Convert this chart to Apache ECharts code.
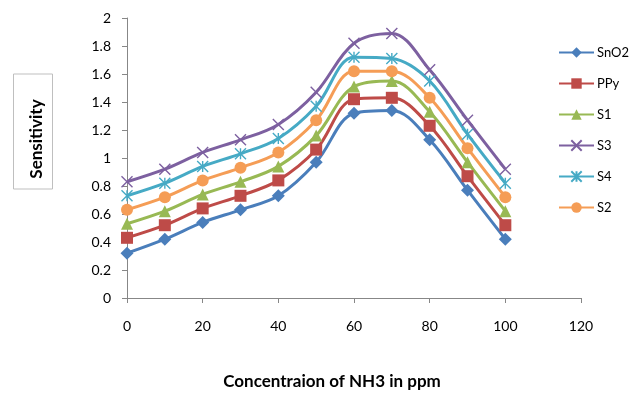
<!DOCTYPE html>
<html>
<head>
<meta charset="utf-8">
<script src="https://cdn.jsdelivr.net/npm/echarts@6/dist/echarts.min.js"></script>
<style>
  html, body { margin: 0; padding: 0; background: #fff; }
  #chart { width: 629px; height: 394px; }
</style>
</head>
<body>
<div id="chart"></div>
<script>
// NH3 concentration (ppm)
const concentration = [0, 10, 20, 30, 40, 50, 60, 70, 80, 90, 100];

// Sensitivity of each sensor material
const sno2 = [0.32, 0.42, 0.54, 0.63, 0.73, 0.97, 1.32, 1.34, 1.13, 0.77, 0.42];
const ppy  = [0.43, 0.52, 0.64, 0.73, 0.84, 1.06, 1.42, 1.43, 1.23, 0.87, 0.52];
const s1   = [0.53, 0.62, 0.74, 0.83, 0.94, 1.16, 1.51, 1.55, 1.33, 0.97, 0.62];
const s3   = [0.83, 0.92, 1.04, 1.13, 1.24, 1.47, 1.82, 1.89, 1.63, 1.27, 0.92];
const s4   = [0.73, 0.82, 0.94, 1.03, 1.14, 1.37, 1.72, 1.71, 1.55, 1.17, 0.82];
const s2   = [0.63, 0.72, 0.84, 0.93, 1.04, 1.27, 1.62, 1.62, 1.43, 1.07, 0.72];

const FONT = 'Lato, "Open Sans", sans-serif';

const crossPath = 'path://M0,0L10,10M10,0L0,10';
const starPath = 'path://M0,0L10,10M10,0L0,10M5,0L5,10';

function pairs(values) {
  return concentration.map((x, i) => [x, values[i]]);
}

function series(name, values, color, symbol, size, stroked) {
  return {
    name: name,
    type: 'line',
    smooth: 0.35,
    data: pairs(values),
    symbol: symbol,
    symbolSize: size,
    showAllSymbol: true,
    lineStyle: { color: color, width: 3 },
    itemStyle: stroked
      ? { color: 'rgba(0,0,0,0)', borderColor: color, borderWidth: 1.4 }
      : { color: color, borderWidth: 0 },
    emphasis: { disabled: true },
    z: 2
  };
}

const chart = echarts.init(document.getElementById('chart'), null, { renderer: 'canvas' });

chart.setOption({
  animation: false,
  backgroundColor: '#ffffff',
  grid: {
    left: 127, right: 48, top: 18, bottom: 96,
    containLabel: false,
    outerBoundsMode: 'none'
  },
  xAxis: {
    type: 'value',
    min: 0, max: 120, interval: 20,
    name: 'Concentraion of NH3 in ppm',
    nameLocation: 'middle',
    nameGap: 75,
    nameTextStyle: {
      fontFamily: FONT, fontWeight: 'bold', fontSize: 17, color: '#000',
      padding: [0, 44, 0, 0]
    },
    axisLine: { lineStyle: { color: '#878787', width: 1 } },
    axisTick: { show: true, length: 5, lineStyle: { color: '#878787' } },
    axisLabel: { fontFamily: FONT, fontSize: 14, color: '#000', margin: 21 },
    splitLine: { show: false }
  },
  yAxis: {
    type: 'value',
    min: 0, max: 2, interval: 0.2,
    axisLine: { show: true, lineStyle: { color: '#878787', width: 1 } },
    axisTick: { show: true, length: 5, lineStyle: { color: '#878787' } },
    axisLabel: { fontFamily: FONT, fontSize: 14, color: '#000', margin: 16 },
    splitLine: { show: false }
  },
  legend: {
    orient: 'vertical',
    left: 553, top: 41,
    itemWidth: 35, itemHeight: 13,
    itemGap: 18,
    textStyle: { fontFamily: FONT, fontSize: 13, color: '#000', padding: [0, 0, 0, -2] },
    data: ['SnO2', 'PPy', 'S1', 'S3', 'S4', 'S2']
  },
  graphic: [{
    type: 'group',
    x: 33, y: 132,
    rotation: Math.PI / 2,
    children: [
      {
        type: 'rect',
        shape: { x: -57, y: -19.5, width: 115, height: 39 },
        style: { fill: '#fff', stroke: '#bfbfbf', lineWidth: 1 }
      },
      {
        type: 'text',
        style: {
          text: 'Sensitivity',
          x: -7, y: 4,
          align: 'center', verticalAlign: 'middle',
          font: 'bold 17px ' + FONT,
          fill: '#000'
        }
      }
    ]
  }],
  series: [
    series('SnO2', sno2, '#4A7EBB', 'diamond', 13, false),
    series('PPy', ppy, '#BE4B48', 'rect', 12, false),
    series('S1', s1, '#98B954', 'triangle', 12, false),
    series('S3', s3, '#7D60A0', crossPath, 11, true),
    series('S4', s4, '#46AAC5', starPath, 11, true),
    series('S2', s2, '#F59D56', 'circle', 12, false)
  ]
});
</script>
</body>
</html>
